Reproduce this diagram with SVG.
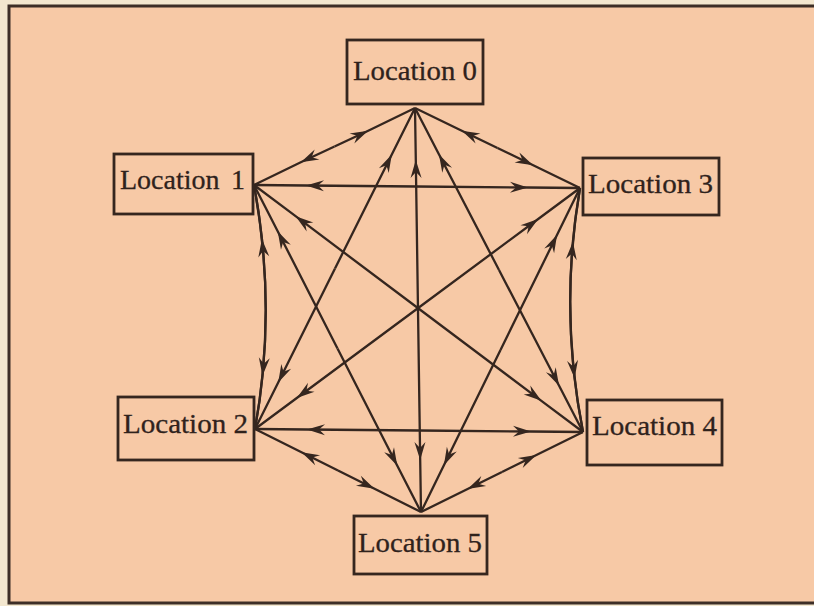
<svg xmlns="http://www.w3.org/2000/svg" width="814" height="606" viewBox="0 0 814 606">
<style>
.node rect{fill:#f7c9a6;stroke:#35261f;stroke-width:2.8}
.node text{font-family:"Liberation Serif","Times New Roman",serif;font-size:28px;fill:#2f221c;stroke:#2f221c;stroke-width:0.3}
.conn path{fill:none;stroke:#35261f;stroke-width:2.3;marker-mid:url(#ah)}
</style>
<defs>
<marker id="ah" markerUnits="userSpaceOnUse" viewBox="-19 -7 20 14" refX="0" refY="0" markerWidth="20" markerHeight="14" orient="auto">
<path d="M0,0 L-18,-5.5 L-12,0 L-18,5.5 Z" fill="#35261f"/>
</marker>
</defs>
<rect x="0" y="0" width="814" height="606" fill="#f3e7cf"/>
<rect x="9" y="6" width="830" height="597" fill="#f7c9a6" stroke="#3d2e27" stroke-width="3"/>
<g id="connectors" class="conn">
<path d="M334.5,146.5 L368.2,130.7 L415,108"/>
<path d="M334.5,146.5 L300.8,162.3 L254,185"/>
<path d="M497.5,148 L461.8,130.7 L415,108"/>
<path d="M497.5,148 L533.2,165.3 L580,188"/>
<path d="M418,310 L415.8,160 L415,108"/>
<path d="M418,310 L420.2,460 L421,512"/>
<path d="M335,268.5 L391.8,154.5 L415,108"/>
<path d="M335,268.5 L278.2,382.5 L255,429"/>
<path d="M499,270 L438.9,154.2 L415,108"/>
<path d="M499,270 L559.1,385.8 L583,432"/>
<path d="M417,186.5 L306,185.5 L254,185"/>
<path d="M417,186.5 L528,187.5 L580,188"/>
<path d="M418.5,308.5 L295.6,216.2 L254,185"/>
<path d="M418.5,308.5 L541.4,400.8 L583,432"/>
<path d="M337.5,348.5 L277.7,231.3 L254,185"/>
<path d="M337.5,348.5 L397.3,465.7 L421,512"/>
<path d="M417.5,308.5 L296.8,398 L255,429"/>
<path d="M417.5,308.5 L538.2,219 L580,188"/>
<path d="M419,430.5 L307,429.5 L255,429"/>
<path d="M419,430.5 L531,431.5 L583,432"/>
<path d="M338,470.5 L301.5,452.2 L255,429"/>
<path d="M338,470.5 L374.5,488.8 L421,512"/>
<path d="M500.5,350 L557.1,234.7 L580,188"/>
<path d="M500.5,350 L443.9,465.3 L421,512"/>
<path d="M502,472 L536.4,455 L583,432"/>
<path d="M502,472 L467.6,489 L421,512"/>
<path d="M255,429 Q272.2,334.6 261.9,239.0 Q259.1,212.1 254,185"/>
<path d="M254,185 Q271.9,280.9 262.5,375.7 Q259.8,402.4 255,429"/>
<path d="M583,432 Q564.3,336.8 572.9,241.7 Q575.4,214.8 580,188"/>
<path d="M580,188 Q563.6,283.2 574.6,378.3 Q577.7,405.2 583,432"/>
</g>
<g id="location0" class="node"><rect x="347" y="40" width="136" height="64"/><text x="353" y="80" textLength="124" lengthAdjust="spacingAndGlyphs">Location 0</text></g>
<g id="location1" class="node"><rect x="114" y="154" width="139" height="60"/><text x="120" y="189">Location <tspan x="231">1</tspan></text></g>
<g id="location3" class="node"><rect x="583" y="158" width="136" height="57"/><text x="588" y="193" textLength="125" lengthAdjust="spacingAndGlyphs">Location 3</text></g>
<g id="location2" class="node"><rect x="118" y="397" width="136" height="63"/><text x="123" y="433" textLength="125" lengthAdjust="spacingAndGlyphs">Location 2</text></g>
<g id="location4" class="node"><rect x="587" y="400" width="135" height="65"/><text x="592" y="435" textLength="125" lengthAdjust="spacingAndGlyphs">Location 4</text></g>
<g id="location5" class="node"><rect x="354" y="516" width="133" height="58"/><text x="358" y="552" textLength="124" lengthAdjust="spacingAndGlyphs">Location 5</text></g>
</svg>
